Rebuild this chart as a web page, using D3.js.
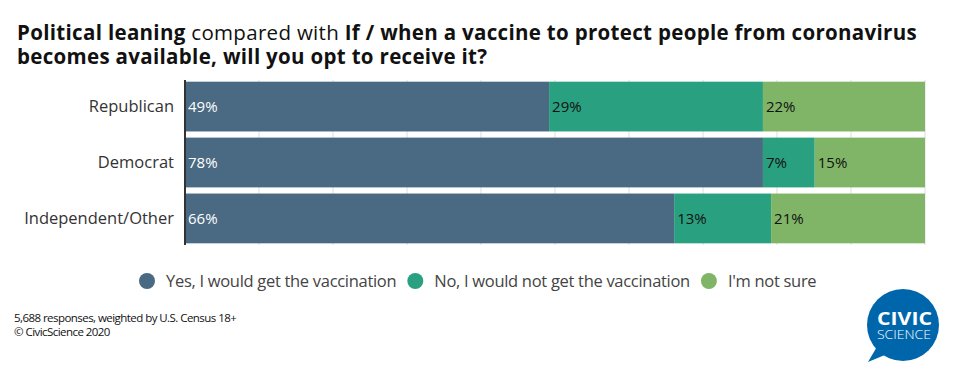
<!DOCTYPE html>
<html><head><meta charset="utf-8">
<script src="https://cdn.jsdelivr.net/npm/d3@7"></script>
<style>body{margin:0;background:#fff}svg{display:block}text{font-family:"Open Sans",sans-serif}</style>
</head><body><svg id="c" width="961" height="367"></svg>
<script>
const categories = ["Republican", "Democrat", "Independent/Other"];
const seriesNames = ["Yes, I would get the vaccination", "No, I would not get the vaccination", "I'm not sure"];
const yesValues = [49.2, 78.1, 66.1];
const noValues = [28.9, 7.0, 13.1];
const unsureValues = [21.9, 14.9, 20.8];
const colors = ["#4a6982", "#29a180", "#80b567"];
const labelColors = ["#ffffff", "#111111", "#111111"];
const xTicks = [0,10,20,30,40,50,60,70,80,90,100];

const svg = d3.select("#c");
const F = '"Open Sans",sans-serif';

// title
const t1 = svg.append("text").attr("x",17).attr("y",40).attr("font-size",20.5).attr("fill","#111");
t1.append("tspan").attr("font-weight","bold").text("Political leaning");
t1.append("tspan").text(" compared with ");
t1.append("tspan").attr("font-weight","bold").text("If / when a vaccine to protect people from coronavirus");
const w1 = t1.node().getComputedTextLength();
const nChars = t1.text().length;
t1.style("letter-spacing", ((900 - w1) / nChars) + "px");
const t2 = svg.append("text").attr("x",17).attr("y",64).attr("font-size",20.5).attr("font-weight","bold").attr("fill","#111")
  .style("letter-spacing", ((900 - w1) / nChars) + "px")
  .text("becomes available, will you opt to receive it?");

const x = d3.scaleLinear().domain([0,100]).range([185,925]);
const y = d3.scaleBand().domain(categories).range([80,245]).paddingInner(0.11).paddingOuter(0.03);

// gridlines
svg.append("g").selectAll("line").data(xTicks).join("line")
  .attr("x1",d=>x(d)).attr("x2",d=>x(d)).attr("y1",80).attr("y2",245)
  .attr("stroke","#dddddd").attr("stroke-width",1);

const series = [yesValues, noValues, unsureValues];
const rows = categories.map((c,i)=>{
  let acc=0; return series.map((s,k)=>{const r={cat:c,k,v:s[i],x0:acc,x1:acc+s[i]}; acc+=s[i]; return r;});
}).flat();

svg.append("g").selectAll("rect").data(rows).join("rect")
  .attr("x",d=>x(d.x0)).attr("width",d=>x(d.x1)-x(d.x0))
  .attr("y",d=>y(d.cat)).attr("height",y.bandwidth())
  .attr("fill",d=>colors[d.k]);

svg.append("g").selectAll("text").data(rows).join("text")
  .attr("x",d=>x(d.x0)+3).attr("y",d=>y(d.cat)+y.bandwidth()/2).attr("dy","0.36em")
  .attr("font-size",15).attr("fill",d=>labelColors[d.k])
  .text(d=>Math.round(d.v)+"%");

// y axis
const ya = svg.append("g").attr("transform","translate(185,0)").call(d3.axisLeft(y).tickSize(0).tickPadding(11));
ya.select(".domain").remove();
ya.selectAll("text").attr("font-size",16.5).attr("fill","#333").style("font-family",F);
svg.append("line").attr("x1",185).attr("x2",185).attr("y1",80).attr("y2",245).attr("stroke","#333").attr("stroke-width",2);

// legend
const lg = svg.append("g");
let lx = 147;
seriesNames.forEach((n,k)=>{
  lg.append("circle").attr("cx",lx).attr("cy",281).attr("r",8).attr("fill",colors[k]);
  const t = lg.append("text").attr("x",lx+19).attr("y",281).attr("dy","0.35em").attr("font-size",16.5).attr("fill","#444").style("letter-spacing","-0.3px").text(n);
  lx = lx + 19 + t.node().getComputedTextLength() + 19;
});

// footer
svg.append("text").attr("x",14).attr("y",322).attr("font-size",11.5).attr("fill","#111").style("letter-spacing","-0.55px").text("5,688 responses, weighted by U.S. Census 18+");
svg.append("text").attr("x",14).attr("y",336).attr("font-size",11.5).attr("fill","#111").style("letter-spacing","-0.55px").text("© CivicScience 2020");

// logo
const logo = svg.append("g");
logo.append("path").attr("d","M878,345 L868,362 L892,352 Z").attr("fill","#0066ab");
logo.append("circle").attr("cx",903).attr("cy",325).attr("r",36).attr("fill","#0066ab");
logo.append("text").attr("x",877).attr("y",325).attr("textLength",55).attr("lengthAdjust","spacingAndGlyphs").attr("font-size",17).attr("font-weight","bold").attr("fill","#fff").text("CIVIC");
logo.append("text").attr("x",877).attr("y",339).attr("textLength",54).attr("lengthAdjust","spacingAndGlyphs").attr("font-size",12).attr("font-weight","300").attr("fill","#fff").text("SCIENCE");
</script></body></html>
